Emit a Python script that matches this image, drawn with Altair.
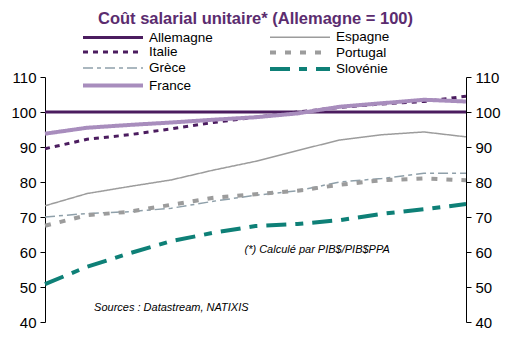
import altair as alt
import pandas as pd

years = ["99", "00", "01", "02", "03", "04", "05", "06", "07", "08", "09"]
allemagne = [100, 100, 100, 100, 100, 100, 100, 100, 100, 100, 100]
italie = [89.5, 92.2, 93.5, 95.2, 97.0, 98.5, 100.0, 101.3, 102.3, 103.0, 104.5]
grece = [70.0, 71.0, 71.5, 72.5, 74.5, 76.2, 77.5, 80.0, 81.0, 82.5, 82.5]
france = [93.8, 95.5, 96.3, 97.0, 97.8, 98.5, 99.6, 101.5, 102.5, 103.5, 103.0]
espagne = [73.2, 76.7, 78.7, 80.6, 83.4, 85.9, 89.0, 92.0, 93.5, 94.3, 92.9]
portugal = [67.5, 70.5, 71.5, 73.5, 75.5, 76.5, 77.5, 79.2, 80.5, 81.0, 80.5]
slovenie = [50.8, 55.8, 59.6, 63.1, 65.5, 67.4, 68.0, 69.1, 70.9, 72.2, 73.7]

order = ["Allemagne", "Italie", "Grèce", "France", "Espagne", "Portugal", "Slovénie"]
series = {
    "Allemagne": allemagne, "Italie": italie, "Grèce": grece, "France": france,
    "Espagne": espagne, "Portugal": portugal, "Slovénie": slovenie,
}
colors = ["#4B1C5F", "#4B1C5F", "#8FA0AA", "#A88DBD", "#9C9C9C", "#9C9C9C", "#0E8077"]
dashes = [[1, 0], [5, 5], [10, 4, 4, 4], [1, 0], [1, 0], [6, 9], [20, 9, 8, 9]]
widths = [3, 3, 1.5, 4, 1.5, 4, 4]

rows = []
for name in order:
    for y, v in zip(years, series[name]):
        rows.append({"annee": y, "valeur": v, "pays": name})
df = pd.DataFrame(rows)

notes_txt = ["(*) Calculé par PIB$/PIB$PPA", "Sources : Datastream, NATIXIS"]
notes = pd.DataFrame([
    {"annee": "04", "valeur": 60.6, "txt": notes_txt[0], "dx": -11},
    {"annee": "00", "valeur": 44.0, "txt": notes_txt[1], "dx": 7},
])

x = alt.X("annee:O", sort=years, title=None,
          scale=alt.Scale(type="point", padding=0),
          axis=alt.Axis(labelAngle=0, labelFontSize=15, labelColor="black",
                        domainColor="black", tickColor="black", tickSize=5,
                        labelPadding=5, grid=False))
yscale = alt.Scale(domain=[40, 110], nice=False, zero=False)
yaxis_kw = dict(values=[40, 50, 60, 70, 80, 90, 100, 110], labelFontSize=15,
                labelColor="black", domainColor="black", tickColor="black",
                tickSize=5, grid=False, labelPadding=4)

leg = alt.Legend(title=None, orient="none", legendX=36, legendY=-47,
                 columns=2, symbolType="M-1,0H9", symbolSize=144,
                 labelFontSize=13.5, labelColor="black",
                 columnPadding=49, rowPadding=0.5, labelOffset=52)

lines = alt.Chart(df).mark_line().encode(
    x=x,
    y=alt.Y("valeur:Q", scale=yscale, title=None,
            axis=alt.Axis(orient="left", **yaxis_kw)),
    color=alt.Color("pays:N", sort=order,
                    scale=alt.Scale(domain=order, range=colors), legend=leg),
    strokeDash=alt.StrokeDash("pays:N", sort=order,
                              scale=alt.Scale(domain=order, range=dashes), legend=leg),
    strokeWidth=alt.StrokeWidth("pays:N", sort=order,
                                scale=alt.Scale(type="ordinal", domain=order, range=widths),
                                legend=leg),
)

right = alt.Chart(df).mark_line(opacity=0).encode(
    x=x,
    y=alt.Y("valeur:Q", scale=yscale, title=None,
            axis=alt.Axis(orient="right", **yaxis_kw)),
    detail="pays:N",
)

text = alt.Chart(notes).mark_text(fontStyle="italic", fontSize=11, align="left",
                                  color="black", font="Liberation Sans").encode(
    x=alt.X("annee:O", sort=years, scale=alt.Scale(type="point", padding=0), axis=None),
    y=alt.Y("valeur:Q", scale=yscale, axis=None),
    text="txt:N",
    xOffset=alt.XOffset("dx:Q", scale=None),
)

chart = alt.layer(lines, right, text).resolve_scale(y="independent").properties(
    width=421, height=245,
    autosize=alt.AutoSizeParams(type="none"),
    padding={"left": 37, "top": 69, "right": 40, "bottom": 33},
    title=alt.TitleParams("Coût salarial unitaire* (Allemagne = 100)", fontSize=16.5,
                          fontWeight="bold", color="#5B2C6F", anchor="middle",
                          offset=3, font="Liberation Sans"),
).configure(font="Liberation Sans").configure_view(stroke=None)

chart.save("out.html", embed_options={"renderer": "svg", "actions": False})
